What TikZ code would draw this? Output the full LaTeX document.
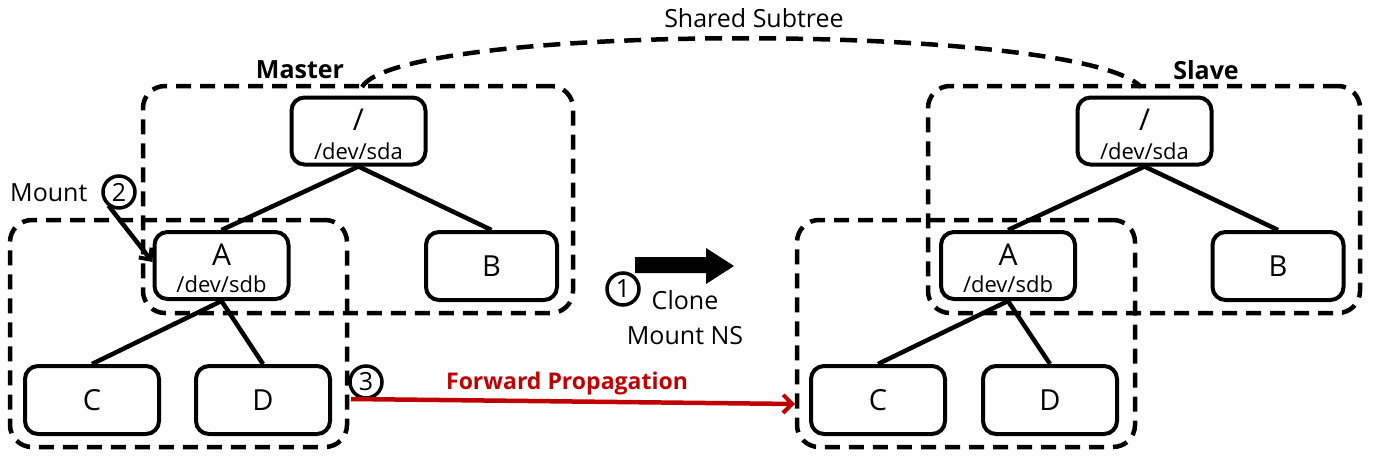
\documentclass[tikz,border=0pt]{standalone}
\usepackage{fontspec}
\setmainfont{Open Sans}
\usetikzlibrary{arrows.meta}
\definecolor{fwdred}{HTML}{C00000}
\tikzset{
  fs/.style={font=\fontsize{#1}{#1}\selectfont},
  tnode/.style={draw, line width=4pt, rounded corners=13pt, inner sep=0pt, align=center},
  grp/.style={draw, line width=4.5pt, dash pattern=on 15pt off 9pt, rounded corners=22pt, inner sep=0pt},
  edge/.style={line width=4.5pt},
  num/.style={circle, draw, line width=3.5pt, minimum size=32pt, inner sep=0pt, font=\fontsize{25}{25}\selectfont},
  lbl/.style={font=\fontsize{25}{30}\selectfont, inner sep=0pt, align=center},
  blbl/.style={font=\fontsize{25}{30}\selectfont\bfseries, inner sep=0pt, align=center},
  big/.style={font=\fontsize{30}{30}\selectfont, inner sep=0pt},
  small/.style={font=\fontsize{22}{22}\selectfont, inner sep=0pt},
}
\begin{document}
\begin{tikzpicture}[x=1pt,y=-1pt]
\useasboundingbox (0,0) rectangle (1375,458);
% group boxes
\node[grp, minimum width=430pt, minimum height=227pt] (mgrp) at (358,199.5) {};
\node[grp, minimum width=337pt, minimum height=227pt] (mlow) at (178.5,333.5) {};
\node[grp, minimum width=432pt, minimum height=227pt] (sgrp) at (1144,199.5) {};
\node[grp, minimum width=338pt, minimum height=227pt] (slow) at (966,333.5) {};
% master tree
\node[tnode, minimum width=134pt, minimum height=67pt] (mroot) at (358.5,131) {};
\node[big] at ([yshift=11pt]mroot.center) {/};
\node[small] at ([yshift=-20pt]mroot.center) {/dev/sda};
\node[tnode, minimum width=134pt, minimum height=67pt] (ma) at (221.5,265.5) {};
\node[big] at ([yshift=11pt]ma.center) {A};
\node[small] at ([yshift=-19pt]ma.center) {/dev/sdb};
\node[tnode, minimum width=131pt, minimum height=68pt, fs=29] (mb) at (491.5,266) {B};
\node[tnode, minimum width=134pt, minimum height=68pt, fs=29] (mc) at (92,400) {C};
\node[tnode, minimum width=134pt, minimum height=68pt, fs=29] (md) at (263,400) {D};
\draw[edge] (mroot.south) -- (ma.north);
\draw[edge] (mroot.south) -- (mb.north);
\draw[edge] (ma.south) -- (mc.north);
\draw[edge] (ma.south) -- (md.north);
% slave tree
\node[tnode, minimum width=134pt, minimum height=67pt] (sroot) at (1144.5,131) {};
\node[big] at ([yshift=11pt]sroot.center) {/};
\node[small] at ([yshift=-20pt]sroot.center) {/dev/sda};
\node[tnode, minimum width=134pt, minimum height=67pt] (sa) at (1008,265.5) {};
\node[big] at ([yshift=11pt]sa.center) {A};
\node[small] at ([yshift=-19pt]sa.center) {/dev/sdb};
\node[tnode, minimum width=131pt, minimum height=68pt, fs=29] (sb) at (1278,266) {B};
\node[tnode, minimum width=134pt, minimum height=68pt, fs=29] (sc) at (878,400) {C};
\node[tnode, minimum width=134pt, minimum height=68pt, fs=29] (sd) at (1050,400) {D};
\draw[edge] (sroot.south) -- (sa.north);
\draw[edge] (sroot.south) -- (sb.north);
\draw[edge] (sa.south) -- (sc.north);
\draw[edge] (sa.south) -- (sd.north);
% labels
\node[blbl] (mlbl) at (300,70) {Master};
\node[blbl] (slbl) at (1206,70) {Slave};
\node[lbl] (shared) at (754,18) {Shared Subtree};
\coordinate (arcA) at (362,87);
\coordinate (arcB) at (1141,87);
\draw[line width=4.5pt, dash pattern=on 17pt off 10pt] (arcA) .. controls (400,22) and (1080,22) .. (arcB);
% mount
\node[lbl, anchor=west] (mount) at (10,193) {Mount};
\node[num] (n2) at (119,192) {2};
\draw[line width=4.5pt, -{Straight Barb[length=9pt,width=16pt,line width=4pt]}] (n2.south west) ++(2,1) coordinate (mst) (mst) -- (ma.west |- 0,262);
% clone
\fill (635,257) -- (706,257) -- (706,248) -- (734,266) -- (706,284) -- (706,273) -- (635,273) -- cycle;
\node[num] (n1) at (623,289) {1};
\node[lbl, align=center, font=\fontsize{25}{35}\selectfont] (clone) at (685,318) {Clone\\Mount NS};
% forward propagation
\node[num] (n3) at (366,382) {3};
\coordinate (fps) at (351,399);
\coordinate (fpe) at (795,404);
\draw[fwdred, line width=4.5pt, -{Straight Barb[length=9pt,width=18pt,line width=4pt]}] (fps) -- (fpe);
\node[blbl, text=fwdred, font=\fontsize{23}{28}\selectfont\bfseries] (fwd) at (567,384) {Forward Propagation};
\end{tikzpicture}
\end{document}
